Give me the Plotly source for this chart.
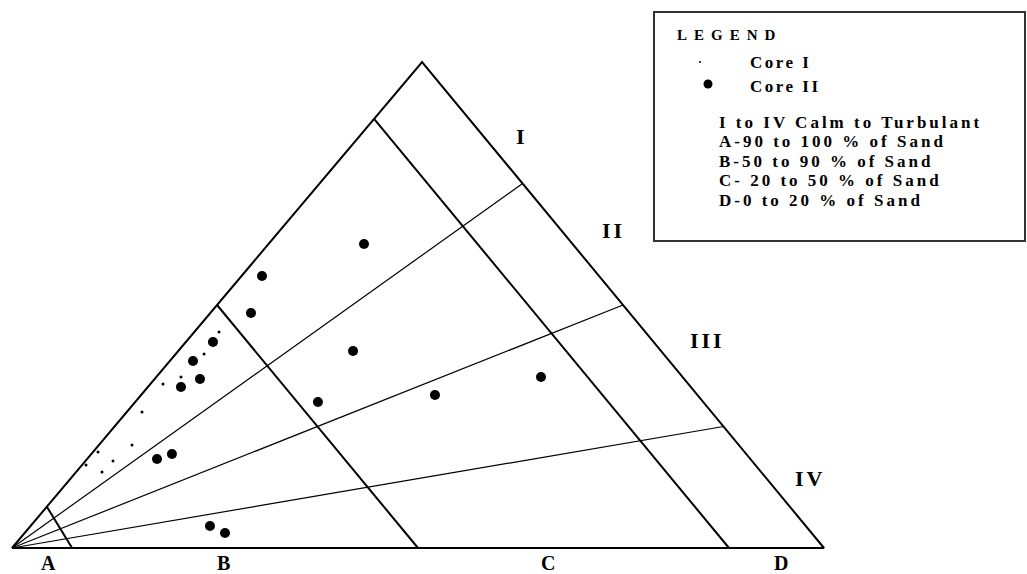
import plotly.graph_objects as go

# diagram units: left vertex (0,0), right vertex (100,0)
apex = (50.5, 59.85)

# zone boundaries parallel to the right side (fraction on left side, fraction on base)
zone_names = ["A", "B", "C", "D"]
zone_left = [0.085, 0.50, 0.883]
zone_base = [7.4, 50.0, 88.3]

# rays from left vertex to the right side (fraction from apex to right vertex)
ray_frac = [0.25, 0.50, 0.75]

# Core I (small dots)
core1_x = [25.49, 23.65, 20.81, 18.60, 16.01, 14.78, 10.59, 12.44, 11.08, 9.11]
core1_y = [26.60, 23.89, 21.06, 20.20, 16.75, 12.68, 11.82, 10.71, 9.36, 10.22]

# Core II (large dots)
core2_x = [43.35, 30.79, 29.43, 24.75, 22.29, 23.15, 20.81, 42.00, 37.68, 52.09,
           65.15, 19.70, 17.86, 24.38, 26.23]
core2_y = [37.44, 33.50, 28.94, 25.37, 23.03, 20.81, 19.83, 24.26, 17.98, 18.84,
           21.06, 11.58, 10.96, 2.71, 1.85]

legend_lines = ["I to IV Calm to Turbulant",
                "A-90 to 100 % of Sand",
                "B-50 to 90 % of Sand",
                "C- 20 to 50 % of Sand",
                "D-0 to 20 % of Sand"]

W, H = 1027, 574
S = 8.12  # px per unit
X0, Y0 = 12, 548

fig = go.Figure()
blk = "black"

# triangle outline
fig.add_trace(go.Scatter(x=[0, apex[0], 100, 0], y=[0, apex[1], 0, 0], mode="lines",
                         line=dict(color=blk, width=2), hoverinfo="skip", showlegend=False))

# zone boundaries
for f, b in zip(zone_left, zone_base):
    fig.add_trace(go.Scatter(x=[f * apex[0], b], y=[f * apex[1], 0], mode="lines",
                             line=dict(color=blk, width=2), hoverinfo="skip", showlegend=False))

# rays
for w in ray_frac:
    ex = apex[0] + w * (100 - apex[0])
    ey = apex[1] * (1 - w)
    fig.add_trace(go.Scatter(x=[0, ex], y=[0, ey], mode="lines",
                             line=dict(color=blk, width=1.2), hoverinfo="skip", showlegend=False))

fig.add_trace(go.Scatter(x=core1_x, y=core1_y, mode="markers", name="Core I",
                         marker=dict(color=blk, size=3), showlegend=False))
fig.add_trace(go.Scatter(x=core2_x, y=core2_y, mode="markers", name="Core II",
                         marker=dict(color=blk, size=10), showlegend=False))

serif = dict(family="Liberation Serif", color=blk, weight="bold")


def px(x, y):
    return (x - X0) / S, (Y0 - y) / S


def spaced(t, sp):
    return '<span style="letter-spacing:%spx">%s</span>' % (sp, t)


# zone letters under the base
for name, xp in zip(zone_names, [48, 223, 548, 781]):
    x, y = px(xp, 563)
    fig.add_annotation(x=x, y=y, text=name, showarrow=False, xanchor="center",
                       yanchor="middle", font=dict(serif, size=20))

# energy levels
for name, (xp, yp) in zip(["I", "II", "III", "IV"],
                          [(522, 136), (613, 230), (707, 340), (810, 478)]):
    x, y = px(xp, yp)
    fig.add_annotation(x=x, y=y, text=spaced(name, 3), showarrow=False, xanchor="center",
                       yanchor="middle", font=dict(serif, size=22))

# legend box
fig.add_shape(type="rect", xref="paper", yref="paper",
              x0=654 / W, x1=1025 / W, y0=1 - 241 / H, y1=1 - 12 / H,
              line=dict(color="#333", width=2))
fig.add_annotation(xref="paper", yref="paper", x=675 / W, y=1 - 35 / H, xanchor="left",
                   yanchor="middle", text=spaced("LEGEND", 7), showarrow=False,
                   font=dict(serif, size=15))
mx, my = px(700, 62)
fig.add_trace(go.Scatter(x=[mx], y=[my], mode="markers", marker=dict(color=blk, size=2),
                         hoverinfo="skip", showlegend=False))
mx, my = px(708, 84)
fig.add_trace(go.Scatter(x=[mx], y=[my], mode="markers", marker=dict(color=blk, size=9),
                         hoverinfo="skip", showlegend=False))
for t, yp in zip(["Core I", "Core II"], [62, 86]):
    fig.add_annotation(xref="paper", yref="paper", x=748 / W, y=1 - yp / H, xanchor="left",
                       yanchor="middle", text=spaced(t, 2.5), showarrow=False,
                       font=dict(serif, size=17))
for t, yp in zip(legend_lines, [122, 141, 161, 180, 200]):
    fig.add_annotation(xref="paper", yref="paper", x=717 / W, y=1 - yp / H, xanchor="left",
                       yanchor="middle", text=spaced(t, 3), showarrow=False,
                       font=dict(serif, size=17))

fig.update_layout(
    width=W, height=H,
    margin=dict(l=0, r=0, t=0, b=0),
    paper_bgcolor="white", plot_bgcolor="white",
    xaxis=dict(range=[-X0 / S, (W - X0) / S], visible=False, fixedrange=True),
    yaxis=dict(range=[-(H - Y0) / S, Y0 / S], visible=False, fixedrange=True),
)

fig.write_html("out.html", config={"displayModeBar": False},
               post_script="document.body.style.margin='0';")
